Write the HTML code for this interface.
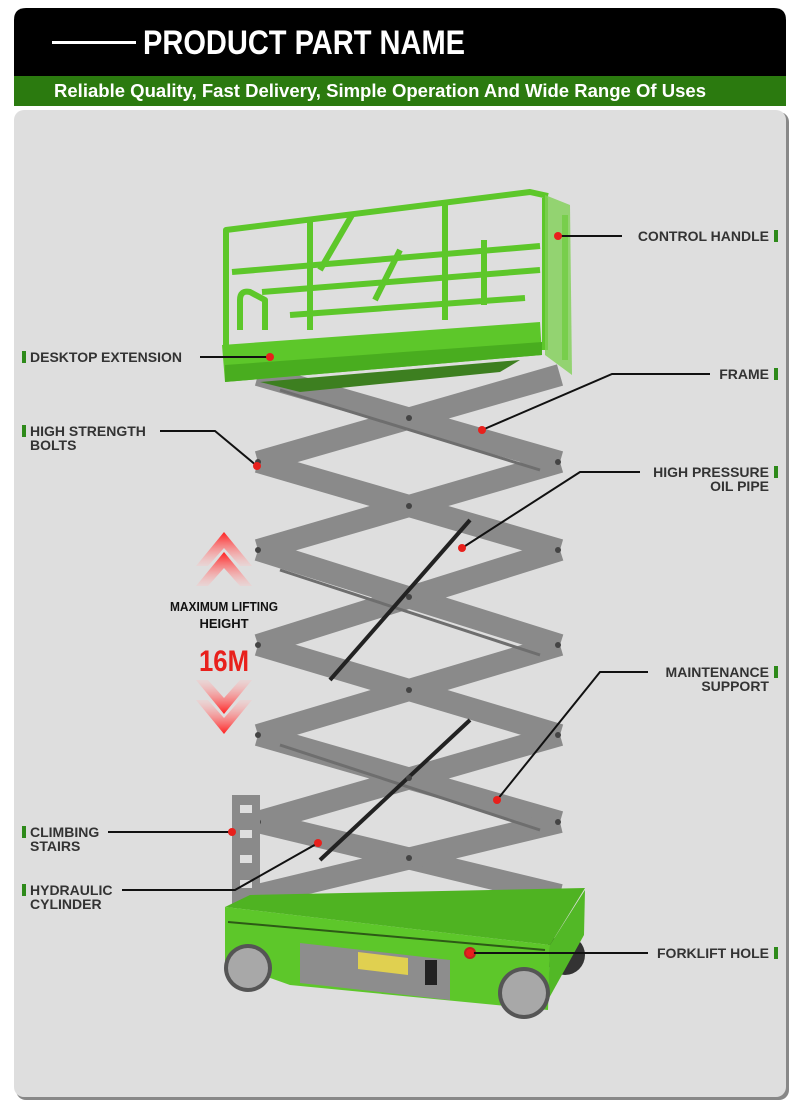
<!DOCTYPE html>
<html><head><meta charset="utf-8"><style>
html,body{margin:0;padding:0;background:#fff}
body{width:800px;height:1110px;position:relative;overflow:hidden;font-family:"Liberation Sans",sans-serif}
</style></head><body>
<svg width="800" height="1110" viewBox="0 0 800 1110" xmlns="http://www.w3.org/2000/svg" style="position:absolute;left:0;top:0">
<defs>
<linearGradient id="ar" x1="0" y1="0" x2="0" y2="1"><stop offset="0" stop-color="#ff2020"/><stop offset="1" stop-color="#ffc0c0" stop-opacity="0.3"/></linearGradient>
<linearGradient id="ad" x1="0" y1="1" x2="0" y2="0"><stop offset="0" stop-color="#ff2020"/><stop offset="1" stop-color="#ffc0c0" stop-opacity="0.3"/></linearGradient>
</defs>
<path d="M26 8 H774 Q786 8 786 20 V76 H14 V20 Q14 8 26 8 Z" fill="#000"/>
<rect x="14" y="76" width="772" height="30" fill="#2b7a0f"/>
<rect x="52" y="41" width="84" height="3" fill="#fff"/>
<text x="143" y="54" font-size="34" font-weight="bold" fill="#fff" textLength="322" lengthAdjust="spacingAndGlyphs">PRODUCT PART NAME</text>
<text x="54" y="97" font-size="18" font-weight="bold" fill="#fff" textLength="652" lengthAdjust="spacingAndGlyphs">Reliable Quality, Fast Delivery, Simple Operation And Wide Range Of Uses</text>
<rect x="16" y="112" width="773" height="988" rx="10" fill="#888"/>
<rect x="14" y="110" width="772" height="987" rx="10" fill="#dedede"/>

<g stroke="#8a8a8a" stroke-width="22" stroke-linecap="butt">
<line x1="258" y1="375" x2="560" y2="462"/><line x1="560" y1="375" x2="258" y2="462"/>
<line x1="258" y1="462" x2="560" y2="550"/><line x1="560" y1="462" x2="258" y2="550"/>
<line x1="258" y1="550" x2="560" y2="645"/><line x1="560" y1="550" x2="258" y2="645"/>
<line x1="258" y1="645" x2="560" y2="735"/><line x1="560" y1="645" x2="258" y2="735"/>
<line x1="258" y1="735" x2="560" y2="822"/><line x1="560" y1="735" x2="258" y2="822"/>
<line x1="258" y1="822" x2="560" y2="895"/><line x1="560" y1="822" x2="258" y2="895"/>
</g>
<g stroke="#6e6e6e" stroke-width="3">
<line x1="280" y1="390" x2="540" y2="470"/><line x1="280" y1="570" x2="540" y2="655"/><line x1="280" y1="745" x2="540" y2="830"/>
</g>
<g stroke="#222" stroke-width="4">
<line x1="330" y1="680" x2="470" y2="520"/><line x1="320" y1="860" x2="470" y2="720"/>
</g>
<g fill="#444">
<circle cx="258" cy="462" r="3"/><circle cx="258" cy="550" r="3"/><circle cx="258" cy="645" r="3"/><circle cx="258" cy="735" r="3"/><circle cx="258" cy="822" r="3"/>
<circle cx="558" cy="462" r="3"/><circle cx="558" cy="550" r="3"/><circle cx="558" cy="645" r="3"/><circle cx="558" cy="735" r="3"/><circle cx="558" cy="822" r="3"/>
<circle cx="409" cy="418" r="3"/><circle cx="409" cy="506" r="3"/><circle cx="409" cy="597" r="3"/><circle cx="409" cy="690" r="3"/><circle cx="409" cy="778" r="3"/><circle cx="409" cy="858" r="3"/>
</g>

<g fill="none" stroke="#5dc72a" stroke-width="6" stroke-linejoin="round">
<polyline points="226,345 226,230 530,192 548,196"/>
<line x1="232" y1="272" x2="540" y2="246"/>
<line x1="290" y1="315" x2="525" y2="298"/>
<line x1="262" y1="292" x2="540" y2="270"/>
<line x1="310" y1="218" x2="310" y2="330"/><line x1="445" y1="200" x2="445" y2="320"/><line x1="484" y1="240" x2="484" y2="305"/>
<line x1="352" y1="215" x2="320" y2="270"/><line x1="400" y1="250" x2="375" y2="300"/>
<line x1="545" y1="198" x2="545" y2="350"/><line x1="565" y1="215" x2="565" y2="360"/>
<path d="M240 330 V300 Q240 290 250 292 L265 300 V330"/>
</g>
<polygon points="545,195 570,205 572,375 545,355" fill="#7fcf55" opacity="0.8"/>
<polygon points="222,345 540,322 542,355 225,382" fill="#5dc72a"/>
<polygon points="225,365 542,342 542,355 225,382" fill="#49ad1f"/>
<polygon points="260,382 520,360 500,372 300,392" fill="#3d7f20"/>

<rect x="232" y="795" width="28" height="110" fill="#8a8a8a"/>
<g fill="#dedede"><rect x="240" y="805" width="12" height="8"/><rect x="240" y="830" width="12" height="8"/><rect x="240" y="855" width="12" height="8"/><rect x="240" y="880" width="12" height="8"/></g>
<circle cx="565" cy="955" r="20" fill="#333"/>
<polygon points="250,895 585,888 550,945 225,907" fill="#4fb322"/>
<polygon points="225,907 550,945 548,1010 290,985 225,962" fill="#5dc72a"/>
<polygon points="550,945 585,890 584,935 548,1000" fill="#52b826"/>
<line x1="228" y1="922" x2="545" y2="950" stroke="#2d5a16" stroke-width="2"/>
<polygon points="300,943 450,960 450,1000 300,983" fill="#8d8d8d"/>
<polygon points="358,952 408,958 408,975 358,969" fill="#e0d050"/>
<rect x="425" y="960" width="12" height="25" fill="#222"/>
<circle cx="470" cy="953" r="6" fill="#c02020"/>
<circle cx="248" cy="968" r="24" fill="#555"/><circle cx="248" cy="968" r="20" fill="#a8a8a8"/>
<circle cx="524" cy="993" r="26" fill="#555"/><circle cx="524" cy="993" r="22" fill="#a8a8a8"/>

<g fill="url(#ar)"><polygon points="224,532 252,566 240,566 224,548 208,566 196,566"/><polygon points="224,552 252,586 240,586 224,568 208,586 196,586"/></g>
<g fill="url(#ad)"><polygon points="224,734 252,700 240,700 224,718 208,700 196,700"/><polygon points="224,714 252,680 240,680 224,698 208,680 196,680"/></g>
<text x="224" y="611" font-size="13" font-weight="bold" text-anchor="middle" fill="#111" textLength="108" lengthAdjust="spacingAndGlyphs">MAXIMUM LIFTING</text>
<text x="224" y="628" font-size="13" font-weight="bold" text-anchor="middle" fill="#111">HEIGHT</text>
<text x="224" y="671" font-size="30" font-weight="bold" text-anchor="middle" fill="#e8201c" textLength="50" lengthAdjust="spacingAndGlyphs">16M</text>

<g stroke="#111" stroke-width="2" fill="none">
<line x1="200" y1="357" x2="270" y2="357"/>
<polyline points="160,431 215,431 257,466"/>
<polyline points="108,832 232,832"/>
<polyline points="122,890 235,890 318,843"/>
<line x1="558" y1="236" x2="622" y2="236"/>
<polyline points="710,374 612,374 482,430"/>
<polyline points="640,472 580,472 462,548"/>
<polyline points="648,672 600,672 497,800"/>
<line x1="470" y1="953" x2="648" y2="953"/>
</g>
<g fill="#e8201c">
<circle cx="270" cy="357" r="4"/><circle cx="257" cy="466" r="4"/><circle cx="232" cy="832" r="4"/><circle cx="318" cy="843" r="4"/>
<circle cx="558" cy="236" r="4"/><circle cx="482" cy="430" r="4"/><circle cx="462" cy="548" r="4"/><circle cx="497" cy="800" r="4"/><circle cx="470" cy="953" r="4"/>
</g>
<g fill="#2e8a1a">
<rect x="22" y="351" width="4" height="12"/><rect x="22" y="425" width="4" height="12"/><rect x="22" y="826" width="4" height="12"/><rect x="22" y="884" width="4" height="12"/>
<rect x="774" y="230" width="4" height="12"/><rect x="774" y="368" width="4" height="12"/><rect x="774" y="466" width="4" height="12"/><rect x="774" y="666" width="4" height="12"/><rect x="774" y="947" width="4" height="12"/>
</g>
<g font-size="14" font-weight="bold" fill="#333">
<text x="30" y="362">DESKTOP EXTENSION</text>
<text x="30" y="436">HIGH STRENGTH</text><text x="30" y="450">BOLTS</text>
<text x="30" y="837">CLIMBING</text><text x="30" y="851">STAIRS</text>
<text x="30" y="895">HYDRAULIC</text><text x="30" y="909">CYLINDER</text>
<g text-anchor="end">
<text x="769" y="241">CONTROL HANDLE</text>
<text x="769" y="379">FRAME</text>
<text x="769" y="477">HIGH PRESSURE</text><text x="769" y="491">OIL PIPE</text>
<text x="769" y="677">MAINTENANCE</text><text x="769" y="691">SUPPORT</text>
<text x="769" y="958">FORKLIFT HOLE</text>
</g></g>
</svg>
</body></html>
